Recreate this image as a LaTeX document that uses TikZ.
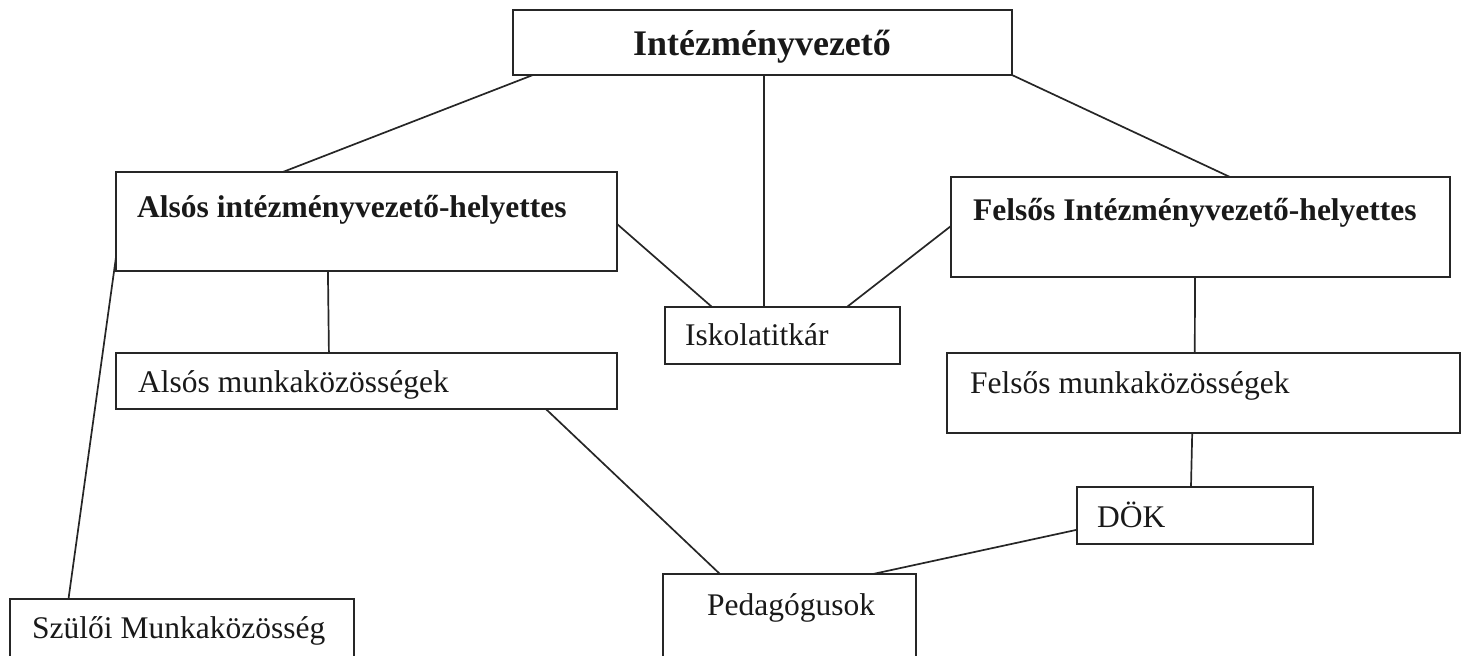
\documentclass[tikz,border=0pt]{standalone}
\usepackage{fontspec}
\setmainfont{Liberation Serif}
\usepackage{tikz}
\usetikzlibrary{calc}
\tikzset{
  orgbox/.style={draw=black!85, line width=1.7pt, inner sep=0pt, outer sep=0pt, anchor=north west},
  orgtext/.style={inner sep=0pt, font=\fontsize{31.5}{36}\selectfont, text=black!90},
  orghead/.style={inner sep=0pt, font=\fontsize{36}{40}\selectfont\bfseries, text=black!90},
  orgline/.style={line width=1.7pt, draw=black!85, line cap=round},
}

\begin{document}
\begin{tikzpicture}[x=1pt, y=-1pt]
\useasboundingbox (0,0) rectangle (1465,656);
\clip (0,0) rectangle (1465,656);
% boxes
\node[orgbox, minimum width=499pt, minimum height=65pt] (top) at (513,10) {};
\node[orgbox, minimum width=501pt, minimum height=99pt] (alsos) at (116,172) {};
\node[orgbox, minimum width=499pt, minimum height=100pt] (felsos) at (951,177) {};
\node[orgbox, minimum width=235pt, minimum height=57pt] (titkar) at (665,307) {};
\node[orgbox, minimum width=501pt, minimum height=56pt] (alsomk) at (116,353) {};
\node[orgbox, minimum width=513pt, minimum height=80pt] (felsomk) at (947,353) {};
\node[orgbox, minimum width=236pt, minimum height=57pt] (dok) at (1077,487) {};
\node[orgbox, minimum width=253pt, minimum height=120pt] (ped) at (663,574) {};
\node[orgbox, minimum width=344pt, minimum height=120pt] (szuloi) at (10,599) {};
% texts
\node[orghead, anchor=base] (toptxt) at (762,55) {Intézményvezető};
\node[orgtext, anchor=base west, font=\fontsize{31.5}{36}\selectfont\bfseries] (alsostxt) at (137,217) {Alsós intézményvezető-helyettes};
\node[orgtext, anchor=base west, font=\fontsize{31.5}{36}\selectfont\bfseries] (felsostxt) at (973,220) {Felsős Intézményvezető-helyettes};
\node[orgtext, anchor=base west] (titkartxt) at (685,345) {Iskolatitkár};
\node[orgtext, anchor=base west] (alsomktxt) at (138,392) {Alsós munkaközösségek};
\node[orgtext, anchor=base west] (felsomktxt) at (970,393) {Felsős munkaközösségek};
\node[orgtext, anchor=base west] (doktxt) at (1097,527) {DÖK};
\node[orgtext, anchor=base west] (pedtxt) at (707,615) {Pedagógusok};
\node[orgtext, anchor=base west] (szuloitxt) at (32,638) {Szülői Munkaközösség};
% connectors
\draw[orgline] ($(top.south west)!.04!(top.south east)$) -- ($(alsos.north west)!.333!(alsos.north east)$);
\draw[orgline] ($(top.south west)!.503!(top.south east)$) -- ($(titkar.north west)!.421!(titkar.north east)$);
\draw[orgline] (top.south east) -- ($(felsos.north west)!.559!(felsos.north east)$);
\draw[orgline] ($(alsos.north east)!.525!(alsos.south east)$) -- ($(titkar.north west)!.2!(titkar.north east)$);
\draw[orgline] ($(felsos.north west)!.49!(felsos.south west)$) -- ($(titkar.north west)!.774!(titkar.north east)$);
\draw[orgline] ($(alsos.south west)!.423!(alsos.south east)$) -- ($(alsomk.north west)!.425!(alsomk.north east)$);
\draw[orgline] ($(alsos.north west)!.86!(alsos.south west)$) -- ($(szuloi.north west)!.17!(szuloi.north east)$);
\draw[orgline] ($(felsos.south west)!.489!(felsos.south east)$) -- ($(felsomk.north west)!.483!(felsomk.north east)$);
\draw[orgline] ($(felsomk.south west)!.478!(felsomk.south east)$) -- ($(dok.north west)!.483!(dok.north east)$);
\draw[orgline] ($(alsomk.south west)!.858!(alsomk.south east)$) -- ($(ped.north west)!.225!(ped.north east)$);
\draw[orgline] ($(dok.north west)!.75!(dok.south west)$) -- ($(ped.north west)!.83!(ped.north east)$);
\end{tikzpicture}
\end{document}
